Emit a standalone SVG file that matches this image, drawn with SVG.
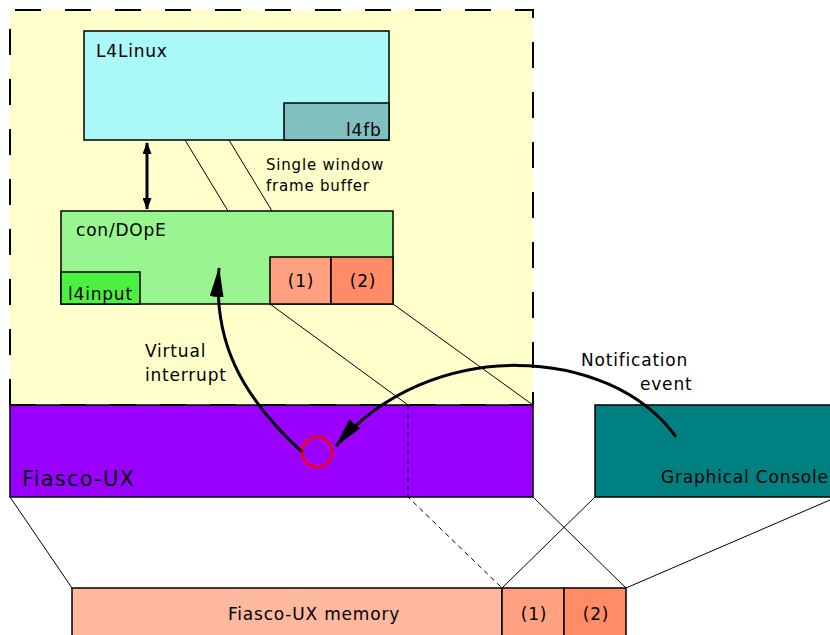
<svg xmlns="http://www.w3.org/2000/svg" width="830" height="635" viewBox="0 0 830 635">
<style>
text{font-family:"DejaVu Sans",sans-serif;fill:#000}
.box{stroke:#000;stroke-width:1.5}
.thin{stroke:#000;stroke-width:1;fill:none}
.t16{font-size:17px;letter-spacing:0.8px}
.t14{font-size:15px;letter-spacing:0.8px}
</style>
<defs>
<marker id="ah" viewBox="0 0 12 9" refX="11" refY="4.5" markerWidth="12" markerHeight="9" markerUnits="userSpaceOnUse" orient="auto-start-reverse"><path d="M0,0 L12,4.5 L0,9 Z" fill="#000"/></marker>
<marker id="big" viewBox="0 0 30 14" refX="29" refY="7" markerWidth="30" markerHeight="14" markerUnits="userSpaceOnUse" orient="auto"><path d="M0,0 L30,7 L0,14 Z" fill="#000"/></marker>
</defs>
<g id="l4region">
<rect x="10" y="10" width="523" height="395" fill="#ffffcc"/>
<path d="M10,405 V10 H533 V405" fill="none" stroke="#000" stroke-width="2" stroke-dasharray="26,24"/>
</g>
<g id="fiasco">
<rect class="box" x="10" y="405" width="523" height="92" fill="#9900ff"/>
<text x="22" y="486" style="font-size:21px;letter-spacing:1.2px">Fiasco-UX</text>
</g>
<path d="M10,405 H533" fill="none" stroke="#000" stroke-width="2" stroke-dasharray="26,24"/>
<g id="console">
<rect class="box" x="595" y="405" width="245" height="92" fill="#008080"/>
<text x="661" y="483" class="t16">Graphical Console</text>
</g>
<g id="l4linux">
<rect class="box" x="84" y="31" width="305" height="109" fill="#aaf8f8"/>
<text x="96" y="57" class="t16">L4Linux</text>
</g>
<g id="l4fb">
<rect class="box" x="284" y="103" width="105" height="37" fill="#80c0c0"/>
<text x="346" y="136" class="t16">l4fb</text>
</g>
<g id="condope">
<rect class="box" x="61" y="211" width="332" height="93" fill="#98f590"/>
<text x="76" y="236" class="t16">con/DOpE</text>
</g>
<g id="l4input">
<rect class="box" x="61" y="272" width="79" height="32" fill="#4cf040"/>
<text x="68" y="300" class="t16">l4input</text>
</g>
<g id="buf1">
<rect class="box" x="270" y="257" width="61" height="47" fill="#ffa080"/>
<text x="301" y="287" class="t16" text-anchor="middle">(1)</text>
</g>
<g id="buf2">
<rect class="box" x="331" y="257" width="62" height="47" fill="#ff8c66"/>
<text x="363" y="287" class="t16" text-anchor="middle">(2)</text>
</g>
<g id="memory">
<rect class="box" x="72" y="588" width="430" height="55" fill="#ffb8a0"/>
<text x="314" y="620" class="t16" text-anchor="middle">Fiasco-UX memory</text>
</g>
<g id="mem1">
<rect class="box" x="502" y="588" width="62" height="55" fill="#ffa080"/>
<text x="534" y="620" class="t16" text-anchor="middle">(1)</text>
</g>
<g id="mem2">
<rect class="box" x="564" y="588" width="62" height="55" fill="#ff8c66"/>
<text x="596" y="620" class="t16" text-anchor="middle">(2)</text>
</g>
<g id="irq">
<circle cx="317" cy="452" r="15" fill="none" stroke="#ff0000" stroke-width="2.5"/>
</g>
<g id="connectors">
<path class="thin" d="M185,140 L228,211 M229,140 L272,211"/>
<path class="thin" d="M270,304 L408,405 M393,304 L533,405"/>
<path class="thin" d="M408,405 V497 L502,588" stroke-dasharray="5,4"/>
<path class="thin" d="M10,497 L72,588 M533,497 L626,588 M595,497 L502,588 M830,500 L626,588"/>
<path d="M147,143 V209" fill="none" stroke="#000" stroke-width="3" marker-start="url(#ah)" marker-end="url(#ah)"/>
<path d="M302,452 C240,395 213,340 219,268" fill="none" stroke="#000" stroke-width="3" marker-end="url(#big)"/>
<path d="M676,437 C610,345 430,335 336,446" fill="none" stroke="#000" stroke-width="3" marker-end="url(#big)"/>
</g>
<g id="labels">
<text x="266" y="170" class="t14">Single window</text>
<text x="266" y="191" class="t14">frame buffer</text>
<text x="145" y="357" class="t16">Virtual</text>
<text x="145" y="381" class="t16">interrupt</text>
<text x="581" y="366" class="t16">Notification</text>
<text x="640" y="390" class="t16">event</text>
</g>
</svg>
